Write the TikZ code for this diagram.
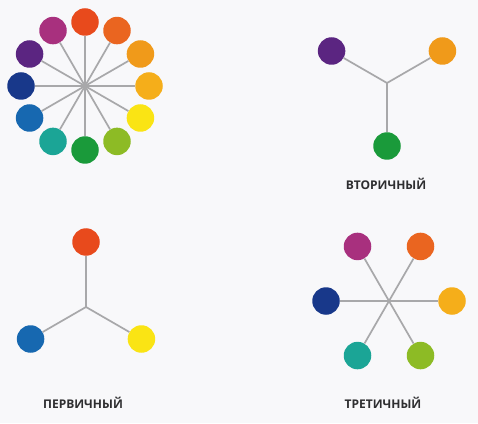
\documentclass[tikz,border=0pt]{standalone}
\usepackage{fontspec}
\newfontfamily\labelfont{Open Sans}
\definecolor{paper}{HTML}{F8F8FA}
\definecolor{spoke}{HTML}{A8A8AA}
\definecolor{ink}{HTML}{2E2E30}
\definecolor{cRed}{HTML}{E84A1C}
\definecolor{cRedOrange}{HTML}{EA6520}
\definecolor{cOrange}{HTML}{F09A1A}
\definecolor{cYellowOrange}{HTML}{F5AE1A}
\definecolor{cYellow}{HTML}{FAE414}
\definecolor{cYellowGreen}{HTML}{8DBB25}
\definecolor{cGreen}{HTML}{1A9A3A}
\definecolor{cTeal}{HTML}{1BA596}
\definecolor{cBlue}{HTML}{1768B0}
\definecolor{cDarkBlue}{HTML}{18388A}
\definecolor{cPurple}{HTML}{5B2581}
\definecolor{cMagenta}{HTML}{A8307E}
\tikzset{
  dot/.style={circle,minimum size=27.5pt,inner sep=0pt},
  ray/.style={draw=spoke,line width=1.7pt},
  title/.style={font=\labelfont\bfseries\fontsize{12}{14}\selectfont,text=ink}
}

\begin{document}
\begin{tikzpicture}[x=1pt,y=1pt]
  \fill[paper] (0,0) rectangle (478,423);
  % wheel
  \coordinate (wc) at (85,337);
  \draw
    ([shift={(90:64)}]wc) node[dot,fill=cRed] (w90){}
    ([shift={(60:64)}]wc) node[dot,fill=cRedOrange] (w60){}
    ([shift={(30:64)}]wc) node[dot,fill=cOrange] (w30){}
    ([shift={(0:64)}]wc) node[dot,fill=cYellowOrange] (w0){}
    ([shift={(-30:64)}]wc) node[dot,fill=cYellow] (w-30){}
    ([shift={(-60:64)}]wc) node[dot,fill=cYellowGreen] (w-60){}
    ([shift={(-90:64)}]wc) node[dot,fill=cGreen] (w-90){}
    ([shift={(-120:64)}]wc) node[dot,fill=cTeal] (w-120){}
    ([shift={(-150:64)}]wc) node[dot,fill=cBlue] (w-150){}
    ([shift={(180:64)}]wc) node[dot,fill=cDarkBlue] (w180){}
    ([shift={(150:64)}]wc) node[dot,fill=cPurple] (w150){}
    ([shift={(120:64)}]wc) node[dot,fill=cMagenta] (w120){};
  \begin{scope}[ray]
    \draw (wc) -- (w90); \draw (wc) -- (w60); \draw (wc) -- (w30);
    \draw (wc) -- (w0); \draw (wc) -- (w-30); \draw (wc) -- (w-60);
    \draw (wc) -- (w-90); \draw (wc) -- (w-120); \draw (wc) -- (w-150);
    \draw (wc) -- (w180); \draw (wc) -- (w150); \draw (wc) -- (w120);
  \end{scope}
  % secondary
  \coordinate (sc) at (387,340);
  \draw
    ([shift={(150:64)}]sc) node[dot,fill=cPurple] (s150){}
    ([shift={(30:64)}]sc) node[dot,fill=cOrange] (s30){}
    ([shift={(-90:63)}]sc) node[dot,fill=cGreen] (s-90){};
  \begin{scope}[ray]
    \draw (sc) -- (s150); \draw (sc) -- (s30); \draw (sc) -- (s-90);
  \end{scope}
  \node[title] (secLabel) at (386,239) {ВТОРИЧНЫЙ};
  % primary
  \coordinate (pc) at (86,116);
  \draw
    ([shift={(90:65)}]pc) node[dot,fill=cRed] (p90){}
    ([shift={(-30:64)}]pc) node[dot,fill=cYellow] (p-30){}
    ([shift={(-150:64)}]pc) node[dot,fill=cBlue] (p-150){};
  \begin{scope}[ray]
    \draw (pc) -- (p90); \draw (pc) -- (p-30); \draw (pc) -- (p-150);
  \end{scope}
  \node[title] (priLabel) at (83,20) {ПЕРВИЧНЫЙ};
  % tertiary
  \coordinate (tc) at (389,122);
  \draw
    ([shift={(120:63)}]tc) node[dot,fill=cMagenta] (t120){}
    ([shift={(60:63)}]tc) node[dot,fill=cRedOrange] (t60){}
    ([shift={(0:63)}]tc) node[dot,fill=cYellowOrange] (t0){}
    ([shift={(-60:63)}]tc) node[dot,fill=cYellowGreen] (t-60){}
    ([shift={(-120:63)}]tc) node[dot,fill=cTeal] (t-120){}
    ([shift={(180:63)}]tc) node[dot,fill=cDarkBlue] (t180){};
  \begin{scope}[ray]
    \draw (t120) -- (t-60); \draw (t60) -- (t-120); \draw (t180) -- (t0);
  \end{scope}
  \node[title] (terLabel) at (383,20) {ТРЕТИЧНЫЙ};
\end{tikzpicture}
\end{document}
